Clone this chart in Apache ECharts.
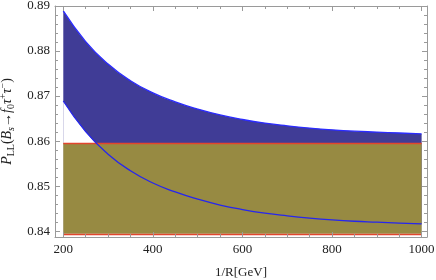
<!DOCTYPE html>
<html><head><meta charset="utf-8">
<script src="https://cdn.jsdelivr.net/npm/echarts@6/dist/echarts.min.js"></script>
<style>html,body{margin:0;padding:0;background:#fff}#c{width:436px;height:280px}</style>
</head><body><div id="c"></div>
<script>
// ---- data ----
const xValues = [200,250,300,350,400,450,500,550,600,650,700,750,800,850,900,950,1000];
const upperValues = [0.8889,0.8821,0.8771,0.8734,0.8707,0.8687,0.8671,0.8658,0.8648,0.8640,0.8634,0.8629,0.8625,0.8622,0.8620,0.8618,0.8616];
const lowerValues = [0.8689,0.8621,0.8571,0.8534,0.8507,0.8487,0.8471,0.8458,0.8448,0.8440,0.8434,0.8429,0.8425,0.8422,0.8420,0.8418,0.8416];
const boxLow = 0.8394;
const boxHigh = 0.8595;
const boxXStart = 200;
const boxXEnd = 1000;
const xMajorTicks = [200,400,600,800,1000];
const xMinorTicks = [250,300,350,450,500,550,650,700,750,850,900,950];
const yMajorTicks = [0.84,0.85,0.86,0.87,0.88,0.89];
const yMinorTicks = [0.842,0.844,0.846,0.848,0.852,0.854,0.856,0.858,0.862,0.864,0.866,0.868,0.872,0.874,0.876,0.878,0.882,0.884,0.886,0.888];

const XMIN = 181.5, XMAX = 1012, YMIN = 0.8387, YMAX = 0.89;
const frameColor = '#9a9a9a';
const font = 'Liberation Serif';

const lowerData = xValues.map((x,i)=>[x, lowerValues[i]]);
const upperData = xValues.map((x,i)=>[x, upperValues[i]]);

function xAx(grid, pos, ticks, len, line, labels){
  return {type:'value', gridIndex:grid, position:pos, min:XMIN, max:XMAX, z:10,
    axisLine:{show:line, onZero:false, lineStyle:{color:frameColor,width:1}},
    axisTick:{show:true, inside:true, length:len, customValues:ticks, lineStyle:{color:frameColor,width:1}},
    axisLabel:{show:labels, customValues:ticks, margin:6, color:'#222', fontFamily:font, fontSize:13,
      formatter:v=>String(v)},
    splitLine:{show:false}};
}
function yAx(grid, pos, ticks, len, line, labels){
  return {type:'value', gridIndex:grid, position:pos, min:YMIN, max:YMAX, z:10,
    axisLine:{show:line, onZero:false, lineStyle:{color:frameColor,width:1}},
    axisTick:{show:true, inside:true, length:len, customValues:ticks, lineStyle:{color:frameColor,width:1}},
    axisLabel:{show:labels, customValues:ticks, margin:5, color:'#222', fontFamily:font, fontSize:13,
      formatter:v=>v.toFixed(2)},
    splitLine:{show:false}};
}
const gridPos = {left:55, top:6, right:9, bottom:43, containLabel:false, outerBoundsMode:'none'};
const xAxes = [
  xAx(0,'bottom',xMajorTicks,5,true,true),
  xAx(0,'top',xMajorTicks,5,true,false),
  xAx(1,'bottom',xMinorTicks,3,false,false),
  xAx(1,'top',xMinorTicks,3,false,false)
];
xAxes[0].name = '1/R[GeV]';
xAxes[0].nameLocation = 'middle';
xAxes[0].nameGap = 29;
xAxes[0].nameTextStyle = {fontFamily:font, fontSize:13, color:'#222'};
const yAxes = [
  yAx(0,'left',yMajorTicks,5,true,true),
  yAx(0,'right',yMajorTicks,5,true,false),
  yAx(1,'left',yMinorTicks,3,false,false),
  yAx(1,'right',yMinorTicks,3,false,false)
];
const base = {fontFamily:font, fontSize:14, color:'#222', lineHeight:18, verticalAlign:'middle'};
yAxes[0].name = '{i|P}{sub|LL}{n|(}{i|B}{subi|s}{n|→}{i|f}{sub|0}{i|τ}{sup|+}{i|τ}{sup|−}{n|)}';
yAxes[0].nameLocation = 'middle';
yAxes[0].nameRotate = 90;
yAxes[0].nameGap = 36;
yAxes[0].nameTextStyle = {fontFamily:font, fontSize:14, color:'#222', rich:{
  n: base,
  i: Object.assign({}, base, {fontStyle:'italic'}),
  sub: {fontFamily:font, fontSize:10, color:'#222', lineHeight:10, verticalAlign:'bottom'},
  subi: {fontFamily:font, fontSize:10, color:'#222', lineHeight:10, verticalAlign:'bottom', fontStyle:'italic'},
  sup: {fontFamily:font, fontSize:10, color:'#222', lineHeight:10, verticalAlign:'top'}
}};

const chart = echarts.init(document.getElementById('c'), null, {renderer:'canvas'});
chart.setOption({
  animation:false,
  grid:[Object.assign({}, gridPos), Object.assign({}, gridPos)],
  xAxis:xAxes,
  yAxis:yAxes,
  series:[
    {type:'line', xAxisIndex:0, yAxisIndex:0, data:upperData, showSymbol:false, smooth:0.5,
      lineStyle:{color:'#2b2bff', width:1.3}, areaStyle:{color:'#403c96', opacity:1, origin:'start'}, z:1, silent:true},
    {type:'line', xAxisIndex:0, yAxisIndex:0, data:lowerData, showSymbol:false, smooth:0.5,
      lineStyle:{opacity:0}, areaStyle:{color:'#ffffff', opacity:1, origin:'start'}, z:2, silent:true},
    {type:'line', xAxisIndex:0, yAxisIndex:0, data:lowerData, showSymbol:false, smooth:0.5,
      lineStyle:{color:'#2626ee', width:1.3}, z:6, silent:true,
      markArea:{silent:true, z:3, itemStyle:{color:'#978a42', borderWidth:0},
        data:[[{coord:[boxXStart, boxLow]},{coord:[boxXEnd, boxHigh]}]]},
      markLine:{silent:true, z:4, symbol:'none', label:{show:false},
        lineStyle:{color:'#e2452e', width:1.3, type:'solid'},
        data:[[{coord:[boxXStart, boxHigh]},{coord:[boxXEnd, boxHigh]}],
              [{coord:[boxXStart, boxLow]},{coord:[boxXEnd, boxLow]}]]}
    }
  ]
});
</script></body></html>
